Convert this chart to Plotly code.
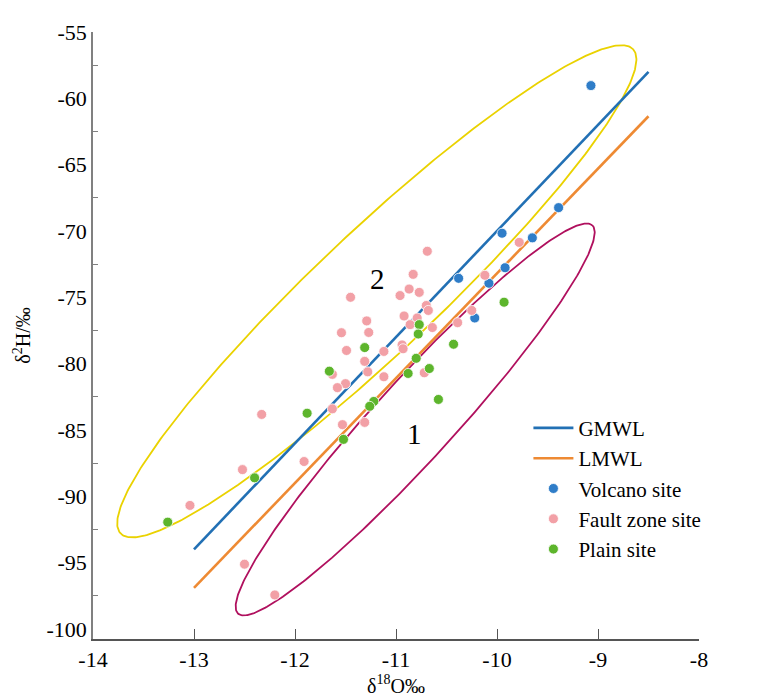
import numpy as np
import plotly.graph_objects as go

# ---------------- data ----------------
volcano_x = [-10.38, -10.08, -9.92, -10.22, -9.07, -9.39, -9.95, -9.65]
volcano_y = [-73.57, -73.94, -72.77, -76.56, -59.04, -68.24, -70.17, -70.52]

fault_x = [-10.69, -10.83, -11.45, -10.87, -10.96, -10.77, -10.70, -10.68, -10.92, -10.79,
           -10.86, -10.64, -10.39, -10.12, -10.25, -9.78, -11.29, -11.54, -11.27, -11.49,
           -11.12, -10.94, -10.93, -11.31, -11.28, -11.63, -11.50, -11.58, -11.12, -10.72,
           -11.63, -11.53, -11.31, -12.33, -11.91, -12.52, -13.04, -12.50, -12.20]
fault_y = [-71.53, -73.27, -75.00, -74.38, -74.87, -74.63, -75.62, -75.99, -76.41, -76.56,
           -77.06, -77.28, -76.91, -73.34, -75.99, -70.86, -76.78, -77.67, -77.65, -79.01,
           -79.08, -78.59, -78.88, -79.83, -80.62, -80.81, -81.51, -81.81, -80.99, -80.69,
           -83.41, -84.60, -84.43, -83.83, -87.38, -87.99, -90.69, -95.12, -97.44]

plain_x = [-10.77, -10.78, -9.93, -11.31, -10.43, -10.80, -10.67, -10.88, -10.58, -11.22,
           -11.26, -11.88, -11.52, -11.66, -12.40, -13.26]
plain_y = [-77.06, -77.77, -75.37, -78.79, -78.54, -79.60, -80.37, -80.74, -82.70, -82.85,
           -83.22, -83.74, -85.71, -80.57, -88.61, -91.95]

gmwl_x = [-13.0, -8.5]
gmwl_y = [-94.0, -58.0]
lmwl_x = [-13.0, -8.5]
lmwl_y = [-96.9, -61.35]

# ellipses: centre, first conjugate half-axis, second conjugate half-axis (data units)
ell2_center = [-11.19, -74.55]
ell2_a = [2.536, 18.26]
ell2_b = [-0.419, 3.27]
ell1_center = [-10.81, -84.21]
ell1_a = [1.753, 14.64]
ell1_b = [-0.295, 1.98]

group_labels = ["2", "1"]
group_label_x = [-11.18, -10.82]
group_label_y = [-73.64, -85.27]

x_ticks = [-14, -13, -12, -11, -10, -9, -8]
y_ticks = [-55, -60, -65, -70, -75, -80, -85, -90, -95, -100]

# ---------------- styles ----------------
SERIF = "Liberation Serif, Times New Roman, serif"
C_BLUE_LINE = "#2270B4"
C_ORANGE = "#EE8A33"
C_BLUE_PT = "#2F7DC8"
C_PINK = "#F2A0A6"
C_GREEN = "#5DB52C"
C_YELLOW = "#EAD200"
C_MAGENTA = "#B0105E"


def ellipse(center, a, b):
    t = np.linspace(0, 2 * np.pi, 400)
    xs = center[0] + a[0] * np.cos(t) + b[0] * np.sin(t)
    ys = center[1] + a[1] * np.cos(t) + b[1] * np.sin(t)
    return xs, ys


fig = go.Figure()

ex, ey = ellipse(ell2_center, ell2_a, ell2_b)
fig.add_trace(go.Scatter(x=ex, y=ey, mode="lines", line=dict(color=C_YELLOW, width=1.8),
                         showlegend=False, hoverinfo="skip"))
ex, ey = ellipse(ell1_center, ell1_a, ell1_b)
fig.add_trace(go.Scatter(x=ex, y=ey, mode="lines", line=dict(color=C_MAGENTA, width=1.8),
                         showlegend=False, hoverinfo="skip"))

fig.add_trace(go.Scatter(x=gmwl_x, y=gmwl_y, mode="lines", name="GMWL",
                         line=dict(color=C_BLUE_LINE, width=2.6)))
fig.add_trace(go.Scatter(x=lmwl_x, y=lmwl_y, mode="lines", name="LMWL",
                         line=dict(color=C_ORANGE, width=2.6)))

mk_line = dict(color="white", width=0.8)
fig.add_trace(go.Scatter(x=volcano_x, y=volcano_y, mode="markers", name="Volcano site",
                         marker=dict(color=C_BLUE_PT, size=10, line=mk_line)))
fig.add_trace(go.Scatter(x=fault_x, y=fault_y, mode="markers", name="Fault zone site",
                         marker=dict(color=C_PINK, size=10, line=mk_line)))
fig.add_trace(go.Scatter(x=plain_x, y=plain_y, mode="markers", name="Plain site",
                         marker=dict(color=C_GREEN, size=10, line=mk_line)))

for lab, lx, ly in zip(group_labels, group_label_x, group_label_y):
    fig.add_annotation(x=lx, y=ly, text=lab, showarrow=False,
                       font=dict(family=SERIF, size=29, color="black"))

fig.update_layout(
    width=780, height=696,
    margin=dict(l=85, r=89, t=16, b=64),
    paper_bgcolor="white", plot_bgcolor="white",
    font=dict(family=SERIF, size=21, color="black"),
    showlegend=True,
    legend=dict(x=0.7185, y=0.381, xanchor="left", yanchor="top",
                bgcolor="rgba(0,0,0,0)", font=dict(family=SERIF, size=21),
                tracegroupgap=0, itemwidth=40),
)

fig.update_xaxes(
    range=[-14, -8], tickvals=x_ticks, ticktext=[str(v) for v in x_ticks],
    showgrid=False, zeroline=False, showline=True, linecolor="#555555", linewidth=1.6,
    ticks="inside", ticklen=10, tickwidth=1.4, tickcolor="#555555",
    tickfont=dict(family=SERIF, size=22),
    title=dict(text="δ<sup>18</sup>O‰", font=dict(family=SERIF, size=20), standoff=6),
)
fig.update_yaxes(
    range=[-100.76, -55], tickvals=y_ticks, ticktext=[str(v) for v in y_ticks],
    showgrid=False, zeroline=False, showline=True, linecolor="#808080", linewidth=1.6,
    ticks="", tickfont=dict(family=SERIF, size=22),
    minor=dict(tick0=-57.5, dtick=5, ticks="inside", ticklen=5, tickcolor="#808080",
               tickwidth=1.2, showgrid=False),
    title=dict(text="δ<sup>2</sup>H/‰", font=dict(family=SERIF, size=20), standoff=10),
)

fig.write_html("out.html")
